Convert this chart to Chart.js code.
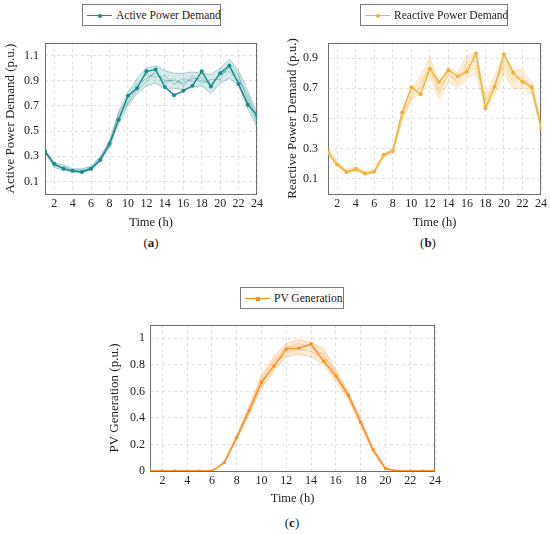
<!DOCTYPE html>
<html>
<head>
<meta charset="utf-8">
<script src="https://cdn.jsdelivr.net/npm/chart.js@4.4.1/dist/chart.umd.min.js"></script>
<style>
  body { margin: 0; background: #fff; }
  #page { position: relative; width: 550px; height: 534px; font-family: 'Liberation Serif', serif; color: #222; }
  canvas { position: absolute; }
  .legend { position: absolute; box-sizing: border-box; height: 22px; border: 1px solid #7a7a7a; background: #fff;
            font-family: 'Liberation Serif', serif; font-size: 11.5px; line-height: 20px; white-space: nowrap; padding-left: 4px; }
  .sample { display: inline-block; position: relative; width: 25px; height: 20px; vertical-align: top; margin-right: 4px; }
  .sample i { position: absolute; left: 0; right: 0; top: 10px; height: 1.3px; }
  .sample b { position: absolute; left: 11px; top: 8.5px; width: 4px; height: 4px; }
  .cap { position: absolute; font-family: 'Liberation Serif', serif; font-size: 13px; transform: translateX(-50%); }
</style>
</head>
<body>
<div id="page">
  <canvas id="chartA" width="275" height="234" style="left:0;top:0"></canvas>
  <canvas id="chartB" width="275" height="234" style="left:275px;top:0"></canvas>
  <canvas id="chartC" width="350" height="234" style="left:100px;top:280px"></canvas>

  <div class="legend" style="left:82px;top:4px;width:139px"><span class="sample"><i style="background:#1b8a8a"></i><b style="background:#1b8a8a;border-radius:50%"></b></span>Active Power Demand</div>
  <div class="legend" style="left:360px;top:4px;width:148px"><span class="sample"><i style="background:#f0b23e"></i><b style="background:#f0b23e;border-radius:50%"></b></span>Reactive Power Demand</div>
  <div class="legend" style="left:240px;top:287px;width:104px"><span class="sample"><i style="background:#ff8c1a"></i><b style="background:#ff8c1a"></b></span>PV Generation</div>

  <div class="cap" style="left:151px;top:235px">(<b>a</b>)</div>
  <div class="cap" style="left:428px;top:235px">(<b>b</b>)</div>
  <div class="cap" style="left:292px;top:515px">(<b>c</b>)</div>
</div>
<script>
// heures
const hours = [1,2,3,4,5,6,7,8,9,10,11,12,13,14,15,16,17,18,19,20,21,22,23,24];
const xTicks = [2,4,6,8,10,12,14,16,18,20,22,24];

// (a) puissance active
const activeMain = [0.34,0.24,0.20,0.185,0.175,0.20,0.27,0.40,0.59,0.78,0.84,0.975,0.99,0.85,0.785,0.82,0.86,0.975,0.855,0.96,1.02,0.875,0.71,0.63];
const activeLow  = [0.33,0.21,0.19,0.17,0.17,0.19,0.26,0.37,0.57,0.70,0.80,0.86,0.88,0.84,0.84,0.83,0.85,0.86,0.80,0.88,0.92,0.86,0.68,0.53];
const activeHigh = [0.35,0.25,0.23,0.20,0.20,0.22,0.30,0.42,0.66,0.80,0.92,1.00,1.02,0.98,0.96,0.96,0.97,0.96,0.95,1.00,1.07,0.98,0.82,0.64];
const activeS1   = [0.34,0.22,0.21,0.18,0.18,0.21,0.28,0.39,0.62,0.74,0.86,0.92,0.96,0.90,0.90,0.88,0.92,0.90,0.88,0.94,1.00,0.93,0.76,0.58];
const activeS2   = [0.34,0.23,0.22,0.19,0.19,0.20,0.29,0.41,0.64,0.77,0.88,0.95,0.93,0.94,0.87,0.92,0.89,0.93,0.85,0.97,0.97,0.90,0.79,0.60];
const activeS3   = [0.33,0.24,0.20,0.18,0.18,0.21,0.27,0.38,0.60,0.72,0.83,0.89,0.98,0.88,0.92,0.86,0.94,0.88,0.91,0.91,1.04,0.95,0.73,0.56];
const activeTicks = [0.1,0.3,0.5,0.7,0.9,1.1];

// (b) puissance reactive
const reactMain = [0.274,0.195,0.145,0.165,0.135,0.148,0.26,0.287,0.54,0.707,0.66,0.83,0.742,0.82,0.78,0.81,0.93,0.568,0.71,0.926,0.803,0.742,0.709,0.44];
const reactLow  = [0.26,0.18,0.14,0.15,0.13,0.14,0.24,0.27,0.48,0.62,0.67,0.78,0.63,0.74,0.70,0.77,0.80,0.56,0.66,0.80,0.70,0.70,0.66,0.43];
const reactHigh = [0.31,0.21,0.16,0.18,0.15,0.16,0.27,0.30,0.55,0.70,0.78,0.90,0.74,0.84,0.80,0.92,0.93,0.66,0.78,0.93,0.82,0.82,0.74,0.48];
const reactS1   = [0.28,0.19,0.15,0.16,0.14,0.15,0.25,0.28,0.51,0.65,0.72,0.86,0.68,0.80,0.74,0.86,0.85,0.62,0.74,0.86,0.76,0.78,0.70,0.45];
const reactS2   = [0.29,0.20,0.15,0.17,0.14,0.15,0.26,0.29,0.52,0.67,0.75,0.82,0.70,0.78,0.76,0.88,0.88,0.60,0.72,0.89,0.78,0.75,0.72,0.46];
const reactS3   = [0.27,0.19,0.14,0.16,0.13,0.14,0.25,0.28,0.50,0.64,0.70,0.84,0.66,0.82,0.72,0.84,0.83,0.64,0.70,0.84,0.74,0.77,0.68,0.44];
const reactTicks = [0.1,0.3,0.5,0.7,0.9];

// (c) production PV
const pvMain = [0,0,0,0,0,0,0.063,0.253,0.456,0.668,0.79,0.92,0.924,0.957,0.828,0.714,0.572,0.367,0.162,0.02,0,0,0,0];
const pvLow  = [0,0,0,0,0,0,0.06,0.24,0.43,0.63,0.76,0.86,0.88,0.86,0.80,0.68,0.54,0.34,0.14,0.01,0,0,0,0];
const pvHigh = [0,0,0,0,0,0,0.07,0.27,0.49,0.72,0.86,0.96,0.99,0.97,0.92,0.76,0.60,0.39,0.17,0.02,0,0,0,0];
const pvS1   = [0,0,0,0,0,0,0.065,0.26,0.47,0.70,0.83,0.93,0.96,0.93,0.88,0.73,0.58,0.37,0.16,0.015,0,0,0,0];
const pvS2   = [0,0,0,0,0,0,0.062,0.25,0.45,0.66,0.80,0.89,0.92,0.90,0.85,0.71,0.56,0.36,0.15,0.015,0,0,0,0];
const pvS3   = [0,0,0,0,0,0,0.066,0.255,0.46,0.68,0.82,0.94,0.94,0.95,0.86,0.74,0.57,0.38,0.16,0.02,0,0,0,0];
const pvTicks = [0,0.2,0.4,0.6,0.8,1];

const serif = "'Liberation Serif', serif";

// cadre complet autour de la zone de tracé
const framePlugin = {
  id: 'frame',
  beforeDatasetsDraw(chart) {
    const a = chart.chartArea;
    const ctx = chart.ctx;
    ctx.save();
    ctx.strokeStyle = '#6e6e6e';
    ctx.lineWidth = 1;
    ctx.strokeRect(Math.round(a.left) + 0.5, Math.round(a.top) + 0.5, Math.round(a.right - a.left) - 1, Math.round(a.bottom - a.top));
    ctx.restore();
  }
};

function makeChart(id, cfg) {
  const rgb = cfg.rgb;
  const sets = [
    { data: cfg.main, borderColor: 'rgb(' + rgb + ')', backgroundColor: 'rgb(' + rgb + ')', borderWidth: 1.4,
      pointRadius: 2, pointStyle: cfg.marker, pointBorderWidth: 0 },
    { data: cfg.low, borderColor: 'rgba(' + rgb + ',0.45)', borderWidth: 0.8, pointRadius: 0, fill: false },
    { data: cfg.high, borderColor: 'rgba(' + rgb + ',0.45)', borderWidth: 0.8, pointRadius: 0,
      fill: '-1', backgroundColor: 'rgba(' + rgb + ',0.18)' }
  ];
  cfg.scen.forEach(s => {
    sets.push({ data: s, borderColor: 'rgba(' + rgb + ',0.5)', borderWidth: 0.7, pointRadius: 0, fill: false });
  });

  return new Chart(document.getElementById(id), {
    type: 'line',
    data: { labels: hours, datasets: sets },
    plugins: [framePlugin],
    options: {
      responsive: false,
      animation: false,
      events: [],
      layout: { padding: { left: 0, top: cfg.top, right: cfg.right, bottom: 0 } },
      plugins: { legend: { display: false }, tooltip: { enabled: false } },
      elements: { line: { tension: 0 } },
      scales: {
        x: {
          type: 'linear', min: 1, max: 24,
          afterBuildTicks: s => { s.ticks = xTicks.map(v => ({ value: v })); },
          afterFit: s => { s.height = cfg.xh; },
          grid: { color: '#d9d9d9', lineWidth: 0.8, drawTicks: false },
          border: { display: false, dash: [3, 3] },
          ticks: { padding: 3, color: '#222', font: { family: serif, size: 12 }, maxRotation: 0 },
          title: { display: true, text: 'Time (h)', color: '#222', font: { family: serif, size: 12.5 },
                   padding: { top: 0, bottom: cfg.xtp } }
        },
        y: {
          min: cfg.ymin, max: cfg.ymax,
          afterBuildTicks: s => { s.ticks = cfg.ticks.map(v => ({ value: v })); },
          afterFit: s => { s.width = cfg.yw; },
          grid: { color: '#d9d9d9', lineWidth: 0.8, drawTicks: false },
          border: { display: false, dash: [3, 3] },
          ticks: { padding: cfg.ytp, color: '#222', font: { family: serif, size: 12 },
                   callback: v => String(Math.round(v * 10) / 10) },
          title: { display: true, text: cfg.ytitle, color: '#222', font: { family: serif, size: 13 },
                   padding: { top: cfg.yttop, bottom: 0 } }
        }
      }
    }
  });
}

makeChart('chartA', {
  rgb: '27,138,138', marker: 'circle', main: activeMain, low: activeLow, high: activeHigh,
  scen: [activeS1, activeS2, activeS3], ticks: activeTicks, ymin: 0, ymax: 1.2,
  ytitle: 'Active Power Demand (p.u.)', top: 43, right: 18, xh: 40, yw: 45, xtp: 3.5, ytp: 6, yttop: 3
});

makeChart('chartB', {
  rgb: '240,178,62', marker: 'circle', main: reactMain, low: reactLow, high: reactHigh,
  scen: [reactS1, reactS2, reactS3], ticks: reactTicks, ymin: 0, ymax: 1.0,
  ytitle: 'Reactive Power Demand (p.u.)', top: 43, right: 9, xh: 40, yw: 53, xtp: 3.5, ytp: 10, yttop: 10
});

makeChart('chartC', {
  rgb: '255,140,26', marker: 'rect', main: pvMain, low: pvLow, high: pvHigh,
  scen: [pvS1, pvS2, pvS3], ticks: pvTicks, ymin: 0, ymax: 1.1,
  ytitle: 'PV Generation (p.u.)', top: 45, right: 15, xh: 43, yw: 50, xtp: 8, ytp: 5, yttop: 7
});
</script>
</body>
</html>
